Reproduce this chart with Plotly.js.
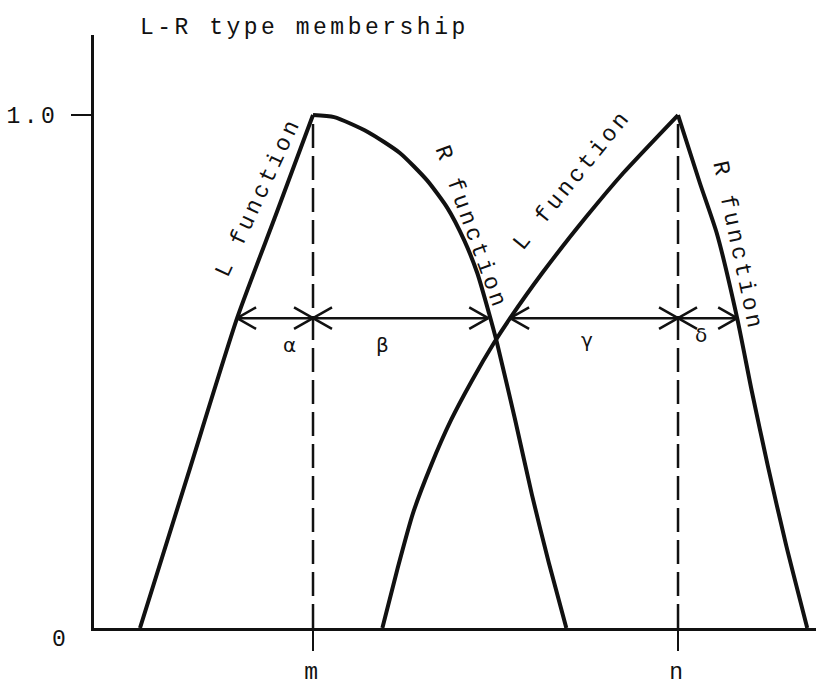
<!DOCTYPE html>
<html>
<head>
<meta charset="utf-8">
<script src="https://cdn.plot.ly/plotly-3.0.1.min.js"></script>
<style>
html,body{margin:0;padding:0;background:#fff;}
#chart{width:816px;height:687px;}
text{letter-spacing:3.5px;}
</style>
</head>
<body>
<div id="chart"></div>
<script>
// ---- data (x in arbitrary units, y = membership grade) ----
const L1x = [0.63, 1.29, 1.96, 2.49, 3.0];
const L1y = [0, 0.30, 0.604, 0.805, 1.0];

const R1x = [3.0, 3.29, 3.75, 4.19, 4.56, 4.84, 5.07, 5.25, 5.41, 5.52, 5.77, 6.00, 6.23, 6.47];
const R1y = [1.0, 0.996, 0.967, 0.926, 0.873, 0.819, 0.756, 0.692, 0.614, 0.556, 0.405, 0.259, 0.127, 0];

const L2x = [3.95, 4.16, 4.37, 4.62, 4.89, 5.18, 5.48, 5.70, 6.14, 6.74, 7.25, 8.0];
const L2y = [0, 0.117, 0.224, 0.318, 0.405, 0.483, 0.556, 0.604, 0.692, 0.801, 0.887, 1.0];

const R2x = [8.0, 8.30, 8.53, 8.81, 9.01, 9.23, 9.48, 9.77];
const R2y = [1.0, 0.867, 0.770, 0.604, 0.462, 0.316, 0.162, 0];

const peakX = [3.0, 8.0];          // m and n
const peakLabels = ['m', 'n'];
const yTickVals = [1.0];
const yTickText = ['1.0'];

const spreadY = 0.604;             // level of the spread arrows
const segStart = [1.96, 3.0, 5.70, 8.0];
const segEnd   = [3.0, 5.40, 8.0, 8.81];
const greekLabels = ['α', 'β', 'γ', 'δ'];
const greekX = [2.71, 3.97, 6.77, 8.34];
const greekY = [0.552, 0.552, 0.561, 0.571];

const fnLabels = ['L function', 'R function', 'L function', 'R function'];
const fnX = [2.26, 5.16, 6.56, 8.81];
const fnY = [0.840, 0.780, 0.873, 0.745];
const fnAngle = [-65, 70, -51, 78];

// ---- build traces ----
const traces = [];
[[L1x, L1y], [R1x, R1y], [L2x, L2y], [R2x, R2y]].forEach(([x, y]) => {
  traces.push({x: x, y: y, type: 'scatter', mode: 'lines',
    line: {color: '#111', width: 4, shape: 'spline', smoothing: 0.6}, hoverinfo: 'skip'});
});

// dashed verticals at m and n
const dx = [], dy = [];
peakX.forEach(p => { dx.push(p, p, null); dy.push(0, 1.0, null); });
traces.push({x: dx, y: dy, type: 'scatter', mode: 'lines',
  line: {color: '#111', width: 2.5, dash: '24px,8px'}, hoverinfo: 'skip'});

// spread arrows (shafts + open chevron heads)
const ax = [], ay = [];
const hx = [], hy = [];
const cw = 0.26, ch = 0.021;
segStart.forEach((s, i) => {
  const e = segEnd[i];
  ax.push(s, e, null); ay.push(spreadY, spreadY, null);
  hx.push(s + cw, s, s + cw, null); hy.push(spreadY + ch, spreadY, spreadY - ch, null);
  hx.push(e - cw, e, e - cw, null); hy.push(spreadY + ch, spreadY, spreadY - ch, null);
});
traces.push({x: ax, y: ay, type: 'scatter', mode: 'lines', line: {color: '#111', width: 2.5}, hoverinfo: 'skip'});
traces.push({x: hx, y: hy, type: 'scatter', mode: 'lines', line: {color: '#111', width: 2.5}, hoverinfo: 'skip'});

const font = {family: 'Liberation Mono, DejaVu Sans Mono, monospace', size: 23, color: '#111'};
const annotations = [];
annotations.push({xref: 'paper', yref: 'paper', x: 0.291, y: 1.012, xanchor: 'center', yanchor: 'middle',
  text: 'L-R type membership', showarrow: false, font: font});
annotations.push({xref: 'paper', yref: 'paper', x: -0.047, y: -0.020, xanchor: 'center', yanchor: 'middle',
  text: '0', showarrow: false, font: font});
greekLabels.forEach((g, i) => {
  annotations.push({x: greekX[i], y: greekY[i], text: g, showarrow: false,
    font: {family: 'DejaVu Sans, sans-serif', size: 20, color: '#111'}});
});
fnLabels.forEach((t, i) => {
  annotations.push({x: fnX[i], y: fnY[i], text: t, textangle: fnAngle[i], showarrow: false, font: font});
});

const layout = {
  width: 816, height: 687,
  margin: {l: 94, r: 0, t: 35, b: 59},
  paper_bgcolor: '#fff', plot_bgcolor: '#fff',
  showlegend: false,
  xaxis: {
    range: [0, 9.89], showgrid: false, zeroline: false,
    showline: true, linecolor: '#111', linewidth: 3,
    tickmode: 'array', tickvals: peakX, ticktext: peakLabels,
    ticks: 'outside', ticklen: 20, tickwidth: 2.5, tickcolor: '#111',
    ticklabelstandoff: 0,
    tickfont: font
  },
  yaxis: {
    range: [0, 1.156], showgrid: false, zeroline: false,
    showline: true, linecolor: '#111', linewidth: 3,
    tickmode: 'array', tickvals: yTickVals, ticktext: yTickText,
    ticks: 'outside', ticklen: 20, tickwidth: 2.5, tickcolor: '#111',
    ticklabelstandoff: 8,
    tickfont: font
  },
  annotations: annotations
};

Plotly.newPlot('chart', traces, layout, {staticPlot: true, displayModeBar: false});
</script>
</body>
</html>
